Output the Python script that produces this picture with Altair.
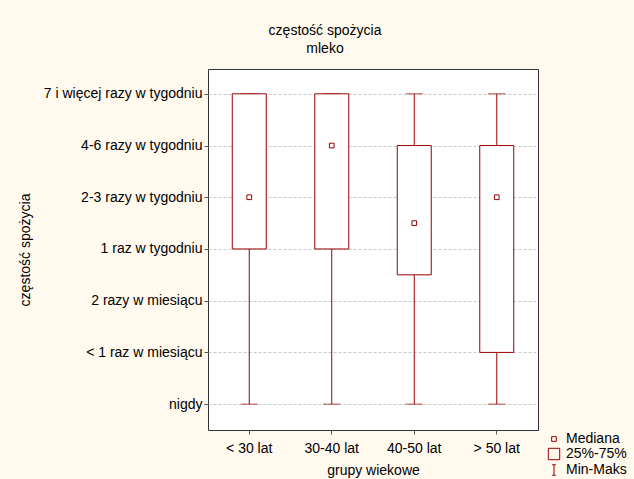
import json
import altair as alt
import pandas as pd

# Age groups and the five-number summary of milk consumption frequency (ordinal codes 0-6)
groups = ["< 30 lat", "30-40 lat", "40-50 lat", "> 50 lat"]
mins = [0, 0, 0, 0]
q1 = [3, 3, 2.5, 1]
medians = [4, 5, 3.5, 4]
q3 = [6, 6, 5, 5]
maxs = [6, 6, 6, 6]

# Frequency levels shown on the y axis, from code 0 upward
levels = [
    "nigdy",
    "< 1 raz w miesiącu",
    "2 razy w miesiącu",
    "1 raz w tygodniu",
    "2-3 razy w tygodniu",
    "4-6 razy w tygodniu",
    "7 i więcej razy w tygodniu",
]

legend_keys = ["Mediana", "25%-75%", "Min-Maks"]

RED = "#990000"
BG = "#FFF9EE"
FONT = "Liberation Sans"
FS = 14

df = pd.DataFrame({
    "grupa": groups,
    "min": mins,
    "q1": q1,
    "med": medians,
    "q3": q3,
    "max": maxs,
})

label_expr = json.dumps(levels, ensure_ascii=False) + "[datum.value]"

x_enc = alt.X(
    "grupa:N",
    sort=groups,
    title="grupy wiekowe",
    scale=alt.Scale(paddingInner=0, paddingOuter=0),
    axis=alt.Axis(labelAngle=0, tickSize=4, labelPadding=7, titlePadding=8, domain=False),
)

y_scale = alt.Scale(domain=[-0.5, 6.48], nice=False, zero=False)
y_axis = alt.Axis(
    values=list(range(len(levels))),
    labelExpr=label_expr,
    grid=True,
    gridDash=[3, 2],
    gridColor="#c8c8c8",
    tickSize=4,
    labelPadding=2,
    titlePadding=11,
    domain=False,
)

base = alt.Chart(df)

whisker_low = base.mark_rule(color=RED, strokeWidth=1).encode(
    x=x_enc,
    y=alt.Y("min:Q", scale=y_scale, axis=y_axis, title="częstość spożycia"),
    y2="q1:Q",
)
whisker_high = base.mark_rule(color=RED, strokeWidth=1).encode(
    x=x_enc, y=alt.Y("q3:Q", scale=y_scale), y2="max:Q"
)
cap_min = base.mark_tick(color=RED, size=17, thickness=1).encode(
    x=x_enc, y=alt.Y("min:Q", scale=y_scale)
)
cap_max = base.mark_tick(color=RED, size=17, thickness=1).encode(
    x=x_enc, y=alt.Y("max:Q", scale=y_scale)
)
box = base.mark_bar(size=34, fill="white", stroke=RED, strokeWidth=1).encode(
    x=x_enc, y=alt.Y("q1:Q", scale=y_scale), y2="q3:Q"
)

legend_def = alt.Legend(
    title=None,
    orient="none",
    legendX=339,
    legendY=363,
    labelFontSize=FS,
    labelFont=FONT,
    labelColor="black",
    rowPadding=0,
    symbolStrokeWidth=1,
    symbolStrokeColor=RED,
    symbolFillColor="transparent",
    labelOffset=5,
)

ibeam = "M-0.35,-1H0.35M0,-1V1M-0.35,1H0.35"

median_pts = base.transform_calculate(key="'Mediana'").mark_point(
    filled=False, color=RED, strokeWidth=1, opacity=1
).encode(
    x=x_enc,
    y=alt.Y("med:Q", scale=y_scale),
    shape=alt.Shape(
        "key:N",
        scale=alt.Scale(domain=legend_keys, range=["square", "square", ibeam]),
        legend=legend_def,
    ),
    size=alt.Size(
        "key:N",
        scale=alt.Scale(type="ordinal", domain=legend_keys, range=[22, 130, 110]),
        legend=legend_def,
    ),
)

chart = (
    alt.layer(whisker_low, whisker_high, cap_min, cap_max, box, median_pts)
    .properties(
        width=330,
        height=361,
        title=alt.TitleParams(
            ["częstość spożycia", "mleko"],
            anchor="middle",
            dx=-48,
            offset=13,
            fontSize=FS,
            fontWeight="normal",
            font=FONT,
            lineHeight=18,
            color="black",
        ),
        background=BG,
        padding={"left": 208, "top": 69, "right": 96, "bottom": 49},
        autosize=alt.AutoSizeParams(type="none"),
    )
    .configure_view(fill="white", stroke="#333333", strokeWidth=1)
    .configure_axis(
        labelFont=FONT,
        titleFont=FONT,
        labelFontSize=FS,
        titleFontSize=FS,
        titleFontWeight="normal",
        labelColor="black",
        titleColor="black",
        tickColor="#555555",
    )
)

chart.save("out.html", embed_options={"renderer": "svg", "actions": False})
